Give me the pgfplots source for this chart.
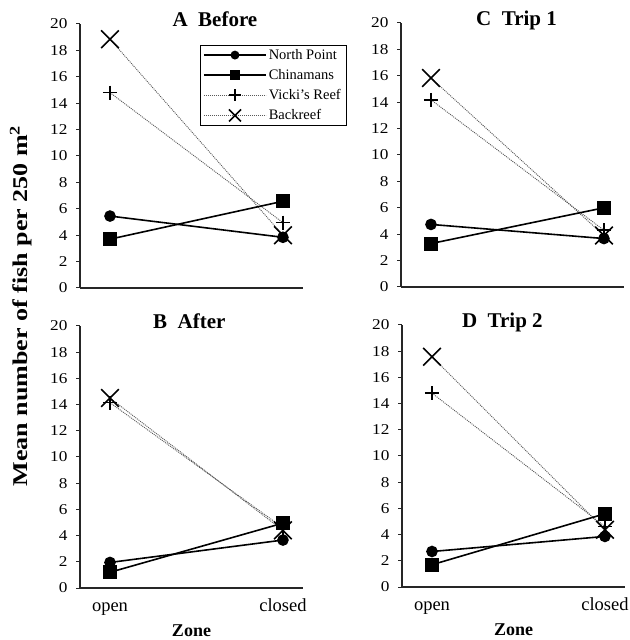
\documentclass[border=0pt]{standalone}
\usepackage{fontspec}
\setmainfont{Liberation Serif}
\newfontfamily\tickfont{Liberation Serif}[FakeStretch=1.15]
\newfontfamily\ylfont{Liberation Serif}[FakeStretch=1.24]
\usepackage{pgfplots}
\pgfplotsset{compat=1.18}
\pgfplotsset{
  panel/.style={
    scale only axis, width=223bp,
    xmin=-0.1734, xmax=1.116, ymin=0, ymax=20,
    axis x line*=bottom, axis y line*=left,
    axis line style={-, line width=1.2bp, black!85},
    ytick={0,2,...,20}, tick align=outside, major tick length=4bp,
    ytick style={line width=1bp, black!85},
    xtick=\empty,
    /pgf/number format/assume math mode=true,
    yticklabel style={font=\tickfont\fontsize{15bp}{17bp}\selectfont, xshift=-5bp},
    title style={font=\bfseries\fontsize{21bp}{24bp}\selectfont, anchor=base, yshift=-8bp},
    clip=false,
  },
  bottompanel/.style={
    xtick={0,1}, xticklabels={open,closed},
    xtick style={draw=none},
    xticklabel style={font=\fontsize{18.5bp}{21bp}\selectfont, anchor=base, yshift=-19bp},
    xlabel={Zone},
    xlabel style={at={(rel axis cs:0.5,0)}, anchor=base, yshift=-48bp,
                  font=\bfseries\fontsize{18bp}{21bp}\selectfont},
  },
  np/.style={black, line width=1.6bp, mark=*, mark size=5bp, forget plot},
  ch/.style={black, line width=1.6bp, mark=square*, mark size=6.2bp, forget plot},
  vr/.style={gray!70!black, line width=0.9bp, dash pattern=on 1bp off 1bp,
             mark=+, mark size=7bp, mark options={solid, black, line width=1.6bp}, forget plot},
  br/.style={gray!70!black, line width=0.9bp, dash pattern=on 1bp off 1bp,
             mark=x, mark size=12.5bp, mark options={solid, black, line width=1.6bp}, forget plot},
}
\begin{document}
\begin{tikzpicture}
\useasboundingbox (0,0) rectangle (630bp,640bp);
% Panel A
\begin{axis}[panel, height=264bp, at={(80bp,352bp)}, anchor=south west,
  title={A\ \ Before}, title style={at={(rel axis cs:0.605,1)}},
  legend style={at={(rel axis cs:0.538,0.920)}, anchor=north west,
    draw=black, font=\fontsize{14.5bp}{16bp}\selectfont,
    row sep=4.5bp, inner xsep=3bp, inner ysep=2bp,
    /tikz/every even column/.append style={column sep=2bp}},
  legend cell align=left,
  legend image code/.code={\draw[mark repeat=2,mark phase=2] plot coordinates {(0bp,0bp)(31bp,0bp)(62bp,0bp)};},
]
\addlegendimage{black, line width=1.6bp, mark=*, mark size=3.6bp}
\addlegendentry{North Point}
\addlegendimage{black, line width=1.6bp, mark=square*, mark size=4.5bp}
\addlegendentry{Chinamans}
\addlegendimage{gray!70!black, line width=0.9bp, dash pattern=on 1bp off 1bp, mark=+, mark size=6bp, mark options={solid, black, line width=1.6bp}}
\addlegendentry{Vicki's Reef}
\addlegendimage{gray!70!black, line width=0.9bp, dash pattern=on 1bp off 1bp, mark=x, mark size=8.5bp, mark options={solid, black, line width=1.6bp}}
\addlegendentry{Backreef}
\addplot[vr] coordinates {(0,14.8) (1,4.95)};
\addplot[br] coordinates {(0,18.85) (1,4.0)};
\addplot[np] coordinates {(0,5.45) (1,3.84)};
\addplot[ch] coordinates {(0,3.7) (1,6.57)};
\end{axis}
% Panel C
\begin{axis}[panel, height=264bp, at={(401bp,353bp)}, anchor=south west,
  title={C\ \ Trip 1}, title style={at={(rel axis cs:0.518,1)}}]
\addplot[vr] coordinates {(0,14.18) (1,4.3)};
\addplot[br] coordinates {(0,15.83) (1,3.9)};
\addplot[np] coordinates {(0,4.74) (1,3.67)};
\addplot[ch] coordinates {(0,3.29) (1,6.0)};
\end{axis}
% Panel B
\begin{axis}[panel, bottompanel, height=262bp, at={(80bp,52bp)}, anchor=south west,
  title={B\ \ After}, title style={at={(rel axis cs:0.49,1)}}]
\addplot[vr] coordinates {(0,14.15) (1,4.6)};
\addplot[br] coordinates {(0,14.5) (1,4.4)};
\addplot[np] coordinates {(0,1.95) (1,3.66)};
\addplot[ch] coordinates {(0,1.2) (1,4.95)};
\end{axis}
% Panel D
\begin{axis}[panel, bottompanel, height=262bp, at={(402bp,53bp)}, anchor=south west,
  title={D\ \ Trip 2}, title style={at={(rel axis cs:0.45,1)}}]
\addplot[vr] coordinates {(0,14.8) (1,4.62)};
\addplot[br] coordinates {(0,17.58) (1,4.37)};
\addplot[np] coordinates {(0,2.71) (1,3.86)};
\addplot[ch] coordinates {(0,1.7) (1,5.59)};
\end{axis}
\node[rotate=90, anchor=base, font=\ylfont\bfseries\fontsize{21bp}{24bp}\selectfont]
  at (27bp,334bp) {Mean number of fish per 250 m\textsuperscript{2}};
\end{tikzpicture}
\end{document}
